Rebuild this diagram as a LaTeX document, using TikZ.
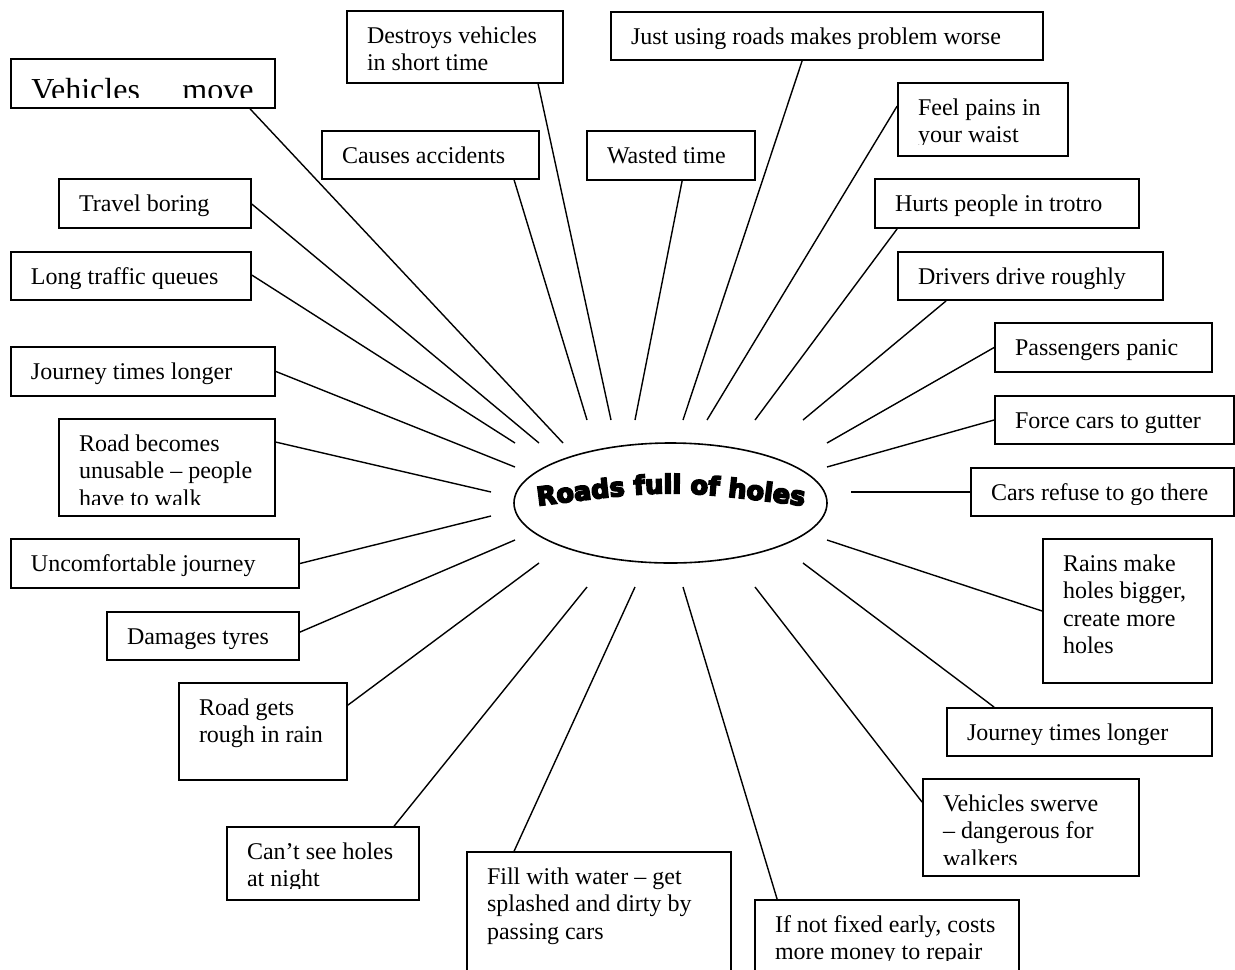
\documentclass[tikz,border=0pt]{standalone}
\usepackage{fontspec}
\setmainfont{Liberation Serif}
\newfontfamily\titlefont{DejaVu Sans}[BoldFeatures={FakeBold=6.5}]
\usetikzlibrary{fit,calc,shapes.geometric,decorations.text}

\tikzset{
  fx box/.style={draw, line width=0.9pt, inner sep=0pt},
  fx text/.style={anchor=base west, inner sep=0pt, font=\fontsize{12pt}{13.8pt}\selectfont},
  spoke/.style={line width=0.7pt},
  hub/.style={draw, ellipse, line width=0.8pt, inner sep=0pt,
    minimum width=156.5pt, minimum height=60pt},
}
\newcommand\titlestyle{\titlefont\bfseries\fontsize{12.8pt}{14pt}\selectfont}
\newcommand\tline[1]{\hbox{#1}}
% box given by two corners; text starts 20.5px in and 33px down, clipped 12.5px above the bottom
\newcommand\effectbox[4]{%
  \node[fx box, fit={#2 #3}] (#1) {};
  \begin{scope}
    \clip (#1.north west) rectangle ([yshift=6.25pt]#1.south east);
    \node[fx text] at ([xshift=10.25pt,yshift=-16.5pt]#1.north west) {\vtop{#4}};
  \end{scope}}

\begin{document}
\begin{tikzpicture}[x=0.5pt,y=-0.5pt]
\fill[white] (0,0) rectangle (1235,969);
\useasboundingbox (0,0) rectangle (1235,969);

% central idea
\node[hub] (roads) at (670.5,503) {};
\path[decorate, decoration={text along path, text align=center,
  text={|\titlestyle|Roads full of holes}}]
  (536,506) .. controls (670,489) .. (806,506);

% effect boxes
\node[fx box, fit={(11,59) (275,108)}] (vm) {};
\begin{scope}
  \clip (vm.north west) rectangle ([yshift=5.5pt]vm.south east);
  \node[fx text, font=\fontsize{16pt}{18.4pt}\selectfont]
    at ([xshift=10.5pt,yshift=-21pt]vm.north west) {\hbox to 111pt{Vehicles\hfill move}};
\end{scope}
\effectbox{dv}{(347,11)}{(563,83)}{\tline{Destroys vehicles}\tline{in short time}}
\effectbox{ju}{(611,12)}{(1043,60)}{\tline{Just using roads makes problem worse}}
\effectbox{ca}{(322,131)}{(539,179)}{\tline{Causes accidents}}
\effectbox{wt}{(587,131)}{(755,180)}{\tline{Wasted time}}
\effectbox{fp}{(898,83)}{(1068,156)}{\tline{Feel pains in}\tline{your waist}}
\effectbox{tb}{(59,179)}{(251,228)}{\tline{Travel boring}}
\effectbox{hp}{(875,179)}{(1139,228)}{\tline{Hurts people in trotro}}
\effectbox{lt}{(11,252)}{(251,300)}{\tline{Long traffic queues}}
\effectbox{dd}{(898,252)}{(1163,300)}{\tline{Drivers drive roughly}}
\effectbox{jl}{(11,347)}{(275,396)}{\tline{Journey times longer}}
\effectbox{pp}{(995,323)}{(1212,372)}{\tline{Passengers panic}}
\effectbox{rb}{(59,419)}{(275,516)}{\tline{Road becomes}\tline{unusable – people}\tline{have to walk}}
\effectbox{fc}{(995,396)}{(1234,444)}{\tline{Force cars to gutter}}
\effectbox{cr}{(971,468)}{(1234,516)}{\tline{Cars refuse to go there}}
\effectbox{uj}{(11,539)}{(299,588)}{\tline{Uncomfortable journey}}
\effectbox{rm}{(1043,539)}{(1212,683)}{\tline{Rains make}\tline{holes bigger,}\tline{create more}\tline{holes}}
\effectbox{dt}{(107,612)}{(299,660)}{\tline{Damages tyres}}
\effectbox{rr}{(179,683)}{(347,780)}{\tline{Road gets}\tline{rough in rain}}
\effectbox{jr}{(947,708)}{(1212,756)}{\tline{Journey times longer}}
\effectbox{vs}{(923,779)}{(1139,876)}{\tline{Vehicles swerve}\tline{– dangerous for}\tline{walkers}}
\effectbox{cs}{(227,827)}{(419,900)}{\tline{Can’t see holes}\tline{at night}}
\effectbox{fw}{(467,852)}{(731,990)}{\tline{Fill with water – get}\tline{splashed and dirty by}\tline{passing cars}}
\effectbox{nf}{(755,900)}{(1019,972)}{\tline{If not fixed early, costs}\tline{more money to repair}}

% spoke ends around the central idea
\coordinate (t-vm) at (563,443);
\coordinate (t-dv) at (611,420);
\coordinate (t-ju) at (683,420);
\coordinate (t-ca) at (587,420);
\coordinate (t-wt) at (635,420);
\coordinate (t-fp) at (707,420);
\coordinate (t-tb) at (539,443);
\coordinate (t-hp) at (755,420);
\coordinate (t-lt) at (515,443);
\coordinate (t-dd) at (803,420);
\coordinate (t-jl) at (515,467);
\coordinate (t-pp) at (827,443);
\coordinate (t-rb) at (491,492);
\coordinate (t-fc) at (827,467);
\coordinate (t-cr) at (851,492);
\coordinate (t-uj) at (491,516);
\coordinate (t-rm) at (827,540);
\coordinate (t-dt) at (515,540);
\coordinate (t-rr) at (539,563);
\coordinate (t-jr) at (803,563);
\coordinate (t-vs) at (755,587);
\coordinate (t-cs) at (587,587);
\coordinate (t-fw) at (635,587);
\coordinate (t-nf) at (683,587);

% spokes
\draw[spoke] ($(vm.south west)+(240,0)$) -- (t-vm);
\draw[spoke] ($(dv.south west)+(192,0)$) -- (t-dv);
\draw[spoke] ($(ju.south west)+(192,0)$) -- (t-ju);
\draw[spoke] ($(ca.south west)+(193,0)$) -- (t-ca);
\draw[spoke] ($(wt.south west)+(96,0)$) -- (t-wt);
\draw[spoke] ($(fp.north west)+(0,24)$) -- (t-fp);
\draw[spoke] ($(tb.north east)+(0,26)$) -- (t-tb);
\draw[spoke] ($(hp.south west)+(23,0)$) -- (t-hp);
\draw[spoke] ($(lt.north east)+(0,24)$) -- (t-lt);
\draw[spoke] ($(dd.south west)+(49,0)$) -- (t-dd);
\draw[spoke] (jl.east) -- (t-jl);
\draw[spoke] (pp.west) -- (t-pp);
\draw[spoke] ($(rb.north east)+(0,24)$) -- (t-rb);
\draw[spoke] (fc.west) -- (t-fc);
\draw[spoke] (cr.west) -- (t-cr);
\draw[spoke] (uj.east) -- (t-uj);
\draw[spoke] (rm.west) -- (t-rm);
\draw[spoke] ($(dt.north east)+(0,21)$) -- (t-dt);
\draw[spoke] ($(rr.north east)+(0,23)$) -- (t-rr);
\draw[spoke] ($(jr.north west)+(48,0)$) -- (t-jr);
\draw[spoke] ($(vs.north west)+(0,24)$) -- (t-vs);
\draw[spoke] ($(cs.north west)+(168,0)$) -- (t-cs);
\draw[spoke] ($(fw.north west)+(48,0)$) -- (t-fw);
\draw[spoke] ($(nf.north west)+(23,0)$) -- (t-nf);
\end{tikzpicture}
\end{document}
